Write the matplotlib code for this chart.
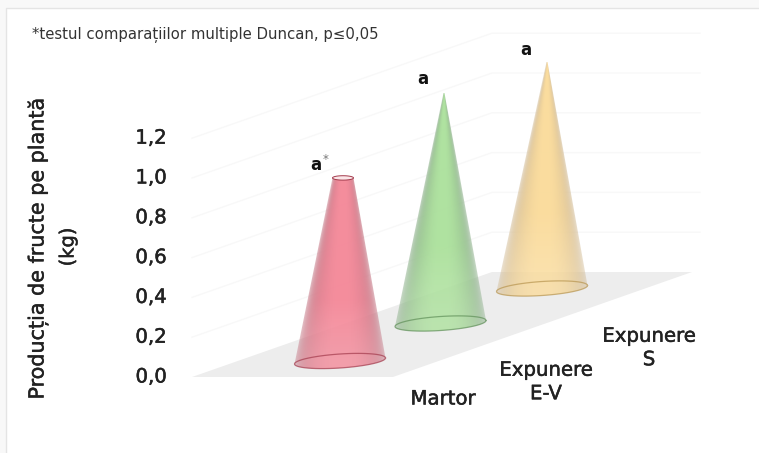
import numpy as np
import matplotlib
matplotlib.use("Agg")
import matplotlib.pyplot as plt
import matplotlib.patheffects as pe
from matplotlib.patches import Polygon, Rectangle

categories = ["Martor", "Expunere\nE-V", "Expunere\nS"]
values = [0.92, 1.158, 1.138]
tip_halfwidth = [10.5, 0.5, 0.5]
value_labels = ["a", "a", "a"]
tick_values = [0.0, 0.2, 0.4, 0.6, 0.8, 1.0, 1.2]
tick_labels = ["0,0", "0,2", "0,4", "0,6", "0,8", "1,0", "1,2"]
colors = ["#f58a9a", "#aee29e", "#fbdc9c"]
side_colors = ["#c06f7e", "#84a982", "#cfb78f"]
edge_colors = ["#a33a4c", "#5f8f58", "#b8954f"]
ylabel_main = "Producția de fructe pe plantă"
ylabel_unit = "(kg)"
note = "*testul comparațiilor multiple Duncan, p≤0,05"

W, H = 759, 453
PX_PER_UNIT = 199.0
Y0 = 377
fig = plt.figure(figsize=(W / 100, H / 100), dpi=100, facecolor="#f8f8f8")
ax = fig.add_axes([0, 0, 1, 1])
ax.axis("off")


def vy(px):
    return (Y0 - px) / PX_PER_UNIT


ax.add_patch(Rectangle((6, vy(470)), 770, (470 - 8) / PX_PER_UNIT, fc="white", ec="#e4e4e4", lw=1, zorder=0))

DX, DY = 300, 105 / PX_PER_UNIT
for t in tick_values[1:]:
    ax.plot([192, 192 + DX, 700], [t, t + DY, t + DY], color="#f8f8f8", lw=1, zorder=1)

ax.add_patch(Polygon([(192, 0), (393, 0), (692, DY), (492, DY)], closed=True, fc="#ededed", ec="none", zorder=2))

base_x = [340, 440.5, 542]
tip_x = [343, 444, 547]
base_y = [vy(361), vy(323.5), vy(288.5)]
halfw = 45.5
minor = 7.0 / PX_PER_UNIT
tilt = 3.0 / PX_PER_UNIT


def ring(cx, cy, a, b, tl, t0=0.0, t1=2 * np.pi):
    th = np.linspace(t0, t1, 60)
    return cx + a * np.cos(th), cy + b * np.sin(th) + tl * np.cos(th)


xpix = 4
for i, v in enumerate(values):
    cx, tx, by = base_x[i], tip_x[i], base_y[i]
    top = by + v
    tw = tip_halfwidth[i]
    main, side = np.array(matplotlib.colors.to_rgb(colors[i])), np.array(matplotlib.colors.to_rgb(side_colors[i]))
    x0, x1 = cx - halfw - 2, max(cx, tx) + halfw + 2
    nx = int((x1 - x0) * xpix)
    xs = np.linspace(x0, x1, nx)
    ylo = by - minor * 1.6
    rows = 500
    ys = np.linspace(ylo, top, rows)
    img = np.zeros((rows, nx, 4))
    for r, y in enumerate(ys):
        f = np.clip((y - by) / v, 0, 1)
        c = cx + (tx - cx) * f
        w = max(halfw + (tw - halfw) * f, 1.0)
        u = np.clip(np.abs(xs - c) / w, 0, 1)
        s = (1 - u ** 2.4)[:, None]
        img[r, :, :3] = main * s + side * (1 - s)
        edge_fade = 0.97 - 0.5 * u ** 7
        base_fade = 0.82 + 0.18 * min(f * 3.0, 1.0)
        img[r, :, 3] = edge_fade * base_fade
    im = ax.imshow(img, extent=[x0, x1, ylo, top], origin="lower", aspect="auto",
                   zorder=3 + i * 2, interpolation="bilinear")
    bx, bb = ring(cx, by, halfw, minor, tilt, np.pi, 2 * np.pi)
    clip = Polygon(np.r_[np.c_[bx, bb], [[tx + tw, top], [tx - tw, top]]], closed=True,
                   transform=ax.transData, fc="none", ec="none")
    ax.add_patch(clip)
    im.set_clip_path(clip)
    ex, ey = ring(cx, by, halfw, minor, tilt)
    ax.plot(ex, ey, color=edge_colors[i], lw=0.9, alpha=0.7, zorder=4 + i * 2)
    if tw > 1:
        ex, ey = ring(tx, top, tw, 2.2 / PX_PER_UNIT, 0)
        ax.fill(ex, ey, fc="#fbe6e8", ec=edge_colors[i], lw=0.7, zorder=4 + i * 2)

ax.set_xlim(0, W)
ax.set_ylim(-(H - Y0) / PX_PER_UNIT, Y0 / PX_PER_UNIT)
ax.set_aspect("auto")

FONT = "DejaVu Sans"
thick = [pe.withStroke(linewidth=0.35, foreground="#222222")]
for t, lab in zip(tick_values, tick_labels):
    ax.text(151, t, lab, ha="center", va="center", fontsize=14.2, family=FONT, color="#222222",
            zorder=20, path_effects=thick)

ax.text(38, vy(249), ylabel_main, rotation=90, ha="center", va="center", fontsize=14.9, family=FONT,
        color="#222222", zorder=20, path_effects=thick)
ax.text(68, vy(247), ylabel_unit, rotation=90, ha="center", va="center", fontsize=14, family=FONT,
        color="#222222", zorder=20, path_effects=thick)
ax.text(32, vy(35), note, ha="left", va="center", fontsize=10.7, family=FONT, color="#333333", zorder=20)

lab_pos = [(443, 399), (546, 382), (649, 348)]
for (x, y), lab in zip(lab_pos, categories):
    ax.text(x, vy(y), lab, ha="center", va="center", fontsize=14.2, family=FONT, color="#222222",
            linespacing=1.3, zorder=20, path_effects=thick)

ann_pos = [(316, 165), (423, 79), (526, 50)]
for (x, y), lab in zip(ann_pos, value_labels):
    ax.text(x, vy(y), lab, ha="center", va="center", fontsize=12, family=FONT, weight="bold", color="#111111", zorder=20)
ax.text(326, vy(159), "*", ha="center", va="center", fontsize=8.5, family=FONT, color="#777777", zorder=20)

fig.savefig("out.png", dpi=100, facecolor=fig.get_facecolor())
